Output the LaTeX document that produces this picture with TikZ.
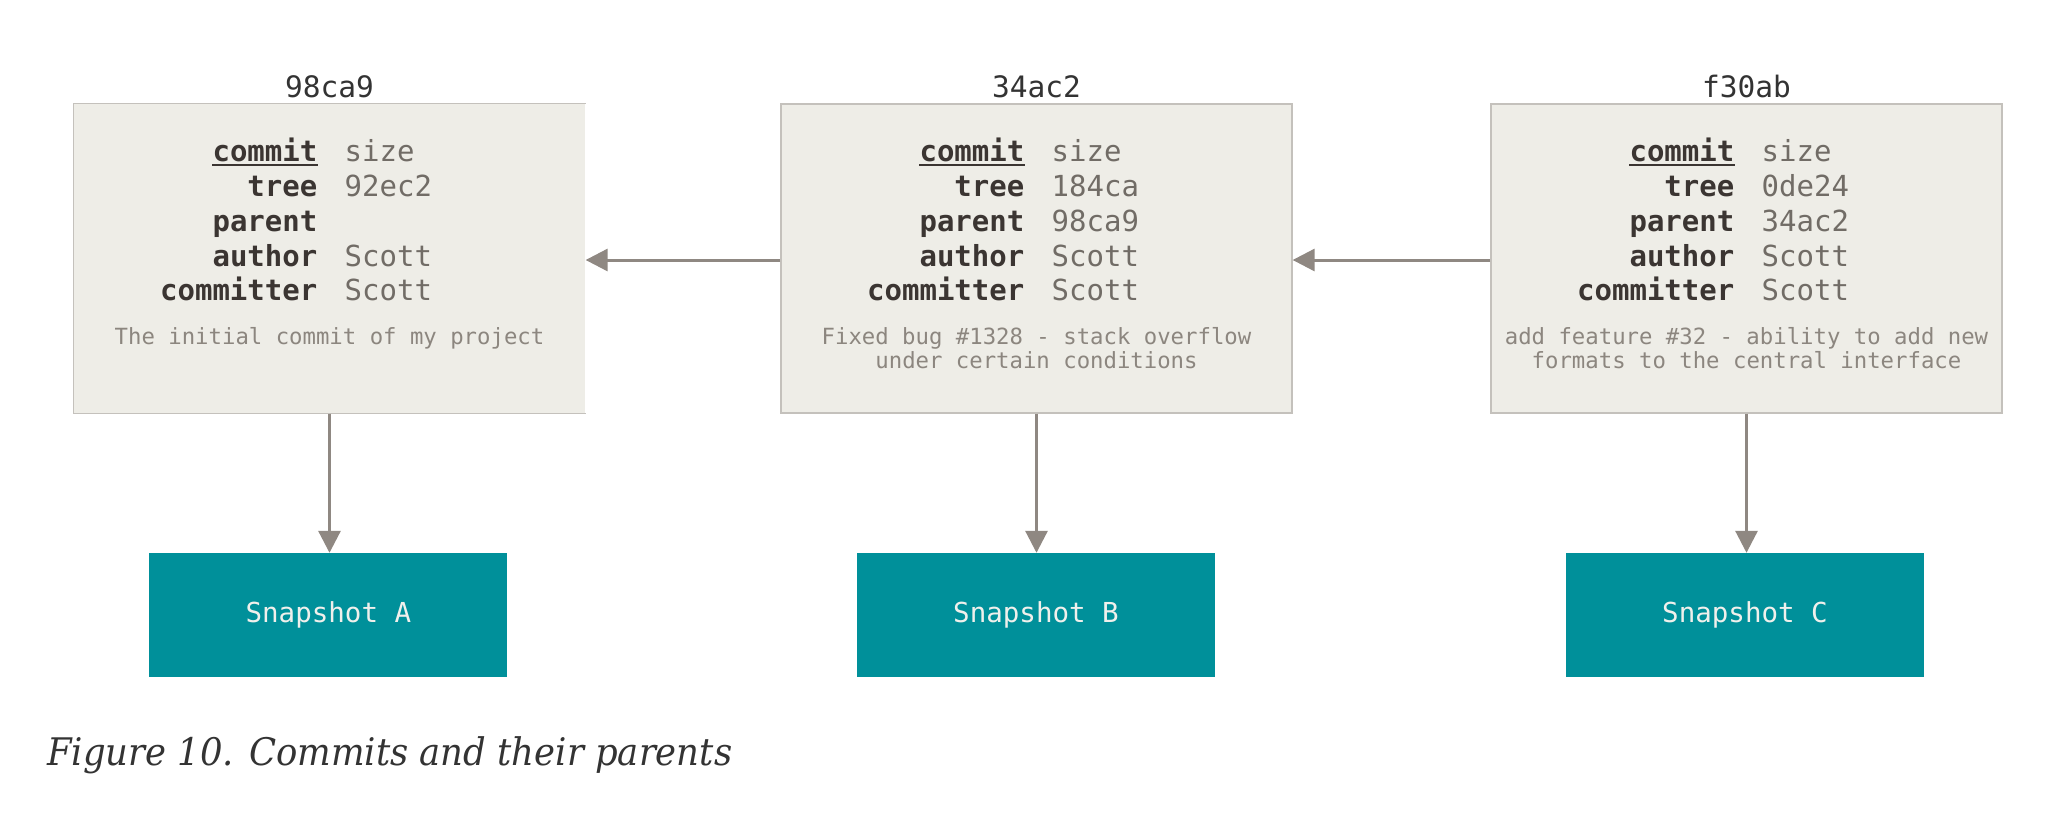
\documentclass[tikz,border=0pt]{standalone}
\usepackage{fontspec}
\usetikzlibrary{arrows.meta}
\newfontfamily\monofont{DejaVu Sans Mono}
\newfontfamily\capfont{DejaVu Serif}
\definecolor{boxfill}{HTML}{EEEDE7}
\definecolor{boxline}{HTML}{C4C1BC}
\definecolor{keycol}{HTML}{3B3532}
\definecolor{valcol}{HTML}{716C66}
\definecolor{desccol}{HTML}{8C867F}
\definecolor{idcol}{HTML}{333333}
\definecolor{tealbox}{HTML}{00909A}
\definecolor{snaptext}{HTML}{F0F0EC}
\definecolor{arrowcol}{HTML}{8F8882}
\definecolor{capcol}{HTML}{333333}
\tikzset{
  commitbox/.style={fill=boxfill, draw=boxline, line width=1.3pt, minimum width=511pt, minimum height=309pt, inner sep=0pt},
  snapbox/.style={fill=tealbox, minimum width=358pt, minimum height=124pt, inner sep=0pt, text=snaptext, font=\monofont\fontsize{27.5}{30}\selectfont},
  keytext/.style={anchor=base east, inner sep=0pt, text=keycol, font=\monofont\bfseries\fontsize{29}{34}\selectfont},
  valtext/.style={anchor=base west, inner sep=0pt, text=valcol, font=\monofont\fontsize{29}{34}\selectfont},
  desctext/.style={anchor=base, inner sep=0pt, text=desccol, font=\monofont\fontsize{22.3}{24}\selectfont},
  idtext/.style={anchor=base, inner sep=0pt, text=idcol, font=\monofont\fontsize{29.5}{32}\selectfont},
  link/.style={draw=arrowcol, line width=3pt, -{Triangle[length=22pt,width=22pt]}},
  ulinestyle/.style={draw=keycol, line width=1.8pt},
}
\newcommand\commitcard[4]{%
  \node[idtext] (#1id) at (#2,97) {#3};
  \node[keytext] (#1k1) at (#2-12,161) {commit};
  \node[valtext] (#1v1) at (#2+15,161) {size};
  \node[keytext] (#1k2) at (#2-12,196) {tree};
  \node[valtext] (#1v2) at (#2+15,196) {#4};
  \node[keytext] (#1k3) at (#2-12,231) {parent};
  \node[keytext] (#1k4) at (#2-12,266) {author};
  \node[valtext] (#1v4) at (#2+15,266) {Scott};
  \node[keytext] (#1k5) at (#2-12,300) {committer};
  \node[valtext] (#1v5) at (#2+15,300) {Scott};
  \draw[ulinestyle] ([yshift=-4pt]#1k1.base west) -- ([yshift=-4pt]#1k1.base east);
}
\begin{document}
\begin{tikzpicture}[x=1pt,y=-1pt]
\fill[white] (0,0) rectangle (2051,814);
\useasboundingbox (0,0) rectangle (2051,814);

% commit boxes
\node[commitbox, draw=none] (c1) at (329.5,258.5) {};
\draw[boxline, line width=1.3pt] (c1.north east) -- (c1.north west) -- (c1.south west) -- (c1.south east);
\node[commitbox] (c2) at (1036.5,258.5) {};
\node[commitbox] (c3) at (1746.5,258.5) {};

% snapshots
\node[snapbox] (s1) at (328.4,615) {Snapshot A};
\node[snapbox] (s2) at (1036,615) {Snapshot B};
\node[snapbox] (s3) at (1745,615) {Snapshot C};

% contents
\commitcard{a}{329.5}{98ca9}{92ec2}
\node[desctext] (ad1) at (329.5,344) {The initial commit of my project};

\commitcard{b}{1036.5}{34ac2}{184ca}
\node[valtext] (bv3) at (1036.5+15,231) {98ca9};
\node[desctext] (bd1) at (1036.5,344) {Fixed bug \#1328 - stack overflow};
\node[desctext] (bd2) at (1036.5,368) {under certain conditions};

\commitcard{c}{1746.5}{f30ab}{0de24}
\node[valtext] (cv3) at (1746.5+15,231) {34ac2};
\node[desctext] (cd1) at (1746.5,344) {add feature \#32 - ability to add new};
\node[desctext] (cd2) at (1746.5,368) {formats to the central interface};

% connectors
\draw[link] ([yshift=-1.5pt]c2.west) -- ([yshift=-1.5pt]c1.east);
\draw[link] ([yshift=-1.5pt]c3.west) -- ([yshift=-1.5pt]c2.east);
\draw[link] (c1.south) -- (c1.south |- s1.north);
\draw[link] (c2.south) -- (c2.south |- s2.north);
\draw[link] (c3.south) -- (c3.south |- s3.north);

% caption
\node[anchor=base west, inner sep=0pt, text=capcol] (cap) at (47,765)
  {\capfont\itshape\fontsize{38}{44}\selectfont\resizebox{685pt}{\height}{Figure 10. Commits and their parents}};
\end{tikzpicture}
\end{document}
